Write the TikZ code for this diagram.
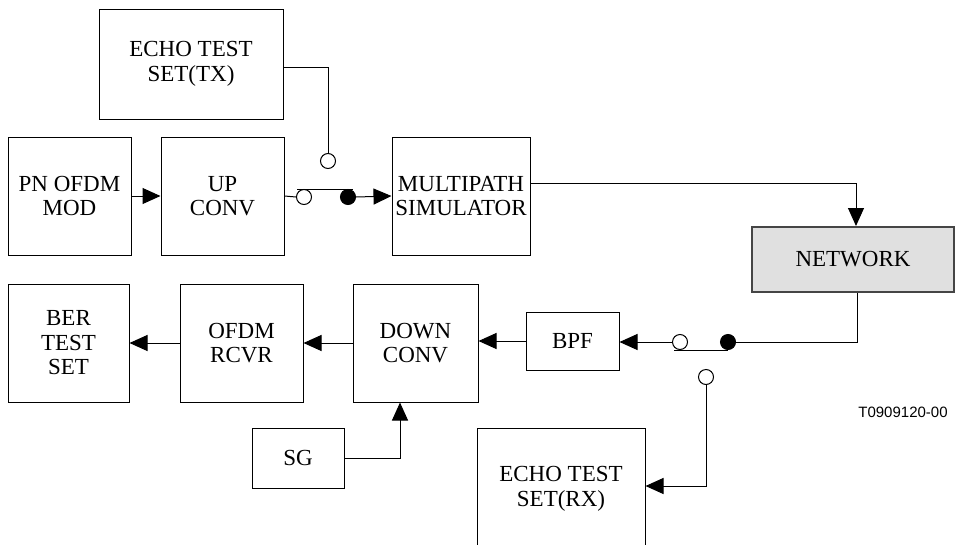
\documentclass[tikz,border=0pt]{standalone}
\usepackage{fontspec}
\setmainfont{Liberation Serif}
\newfontfamily\codefont{Liberation Sans}
\usetikzlibrary{arrows.meta}
\usetikzlibrary{calc}
\tikzset{blk/.style = {draw, line width=1pt, align=center, inner sep=0,
                       font=\fontsize{23}{24.5}\selectfont}}
\tikzset{sig/.style = {line width=1pt, -{Triangle[length=18pt, width=16pt]}}}
\tikzset{wire/.style = {line width=1pt}}
\tikzset{opn/.style = {draw, circle, line width=1pt, inner sep=0,
                       minimum size=15pt, fill=white}}
\tikzset{cls/.style = {opn, fill=black}}
\definecolor{netgray}{rgb}{0.88, 0.88, 0.88}
\definecolor{netedge}{rgb}{0.27, 0.27, 0.27}

\begin{document}
\begin{tikzpicture}[x=1pt, y=-1pt]
  \useasboundingbox (0, 0) rectangle (956, 544);
  \begin{scope}
    \clip (0, 0) rectangle (956, 544);

    % transmit side
    \node [blk, minimum width=184pt, minimum height=110pt] (ettx) at (191, 64) {ECHO TEST\\SET(TX)};
    \node [blk, minimum width=123pt, minimum height=118pt] (pnmod) at (69.5, 196) {PN OFDM\\MOD};
    \node [blk, minimum width=123pt, minimum height=118pt] (upconv) at (222.5, 196) {UP\\CONV};
    \node [blk, minimum width=138pt, minimum height=118pt] (multi) at (461, 196) {MULTIPATH\\SIMULATOR};
    \node [blk, fill=netgray, draw=netedge, line width=2pt,
           minimum width=202pt, minimum height=65pt] (network) at (853, 259.5) {NETWORK};

    % receive side
    \node [blk, minimum width=121pt, minimum height=118pt] (ber) at (68.5, 343) {BER\\TEST\\SET};
    \node [blk, minimum width=123pt, minimum height=118pt] (ofdm) at (241.5, 343) {OFDM\\RCVR};
    \node [blk, minimum width=125pt, minimum height=118pt] (down) at (415.5, 343) {DOWN\\CONV};
    \node [blk, minimum width=93pt, minimum height=58pt] (bpf) at (572.5, 341) {BPF};
    \node [blk, minimum width=92pt, minimum height=60pt] (sg) at (298, 458) {SG};
    \node [blk, minimum width=168pt, minimum height=122pt] (etrx) at (561, 489) {ECHO TEST\\SET(RX)};

    \node [font=\codefont\fontsize{15}{15}\selectfont] (tcode) at (903, 412) {T0909120-00};

    % switches
    \node [opn] (swa) at (304, 197) {};
    \node [cls] (swb) at (348, 197) {};
    \node [opn] (swc) at (328, 161) {};
    \node [opn] (swd) at (680, 342) {};
    \node [cls] (swe) at (728, 342) {};
    \node [opn] (swf) at (706, 377) {};

    % connections
    \draw [sig] (pnmod.east) -- (upconv.west);
    \draw [wire] (upconv.east) -- (swa.west);
    \draw [wire] ([xshift=-7pt]swa.north) -- ([xshift=5pt]swb.north);
    \draw [wire] ([yshift=-3pt]ettx.east) -| (swc.north);
    \draw [sig] (swb.east) -- (multi.west);
    \draw [sig] ([yshift=13pt]multi.east) -| ([xshift=3pt]network.north);

    \draw [wire] ([xshift=4pt]network.south) |- (swe.east);
    \draw [wire] ([xshift=-6pt]swd.south) -- (swe.south);
    \draw [sig] (swd.west) -- (bpf.east |- swd.west);
    \draw [sig] (swf.south) |- ([yshift=3pt]etrx.east);
    \draw [sig] (bpf.west) -- (down.east |- bpf.west);
    \draw [sig] (down.west) -- (ofdm.east);
    \draw [sig] (ofdm.west) -- (ber.east);
    \draw [sig] (sg.east) -| ([xshift=-15.5pt]down.south);
  \end{scope}
\end{tikzpicture}
\end{document}
